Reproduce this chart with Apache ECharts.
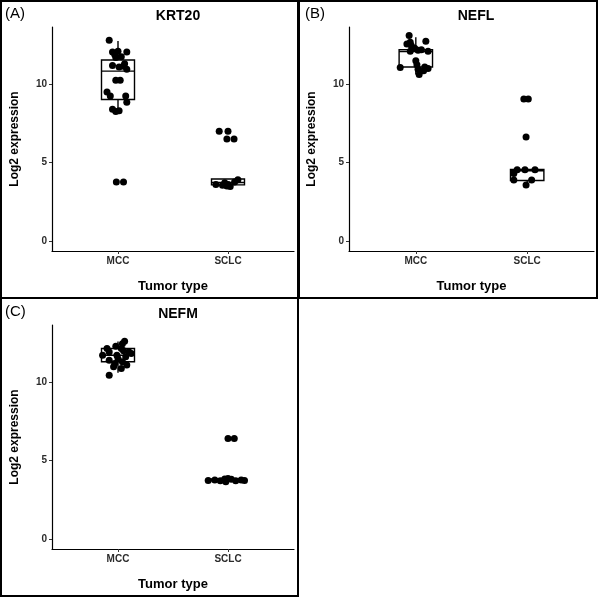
<!DOCTYPE html>
<html><head><meta charset="utf-8">
<script src="https://cdn.jsdelivr.net/npm/echarts@6/dist/echarts.min.js"></script>
<style>html,body{margin:0;padding:0;background:#fff}#c{width:600px;height:599px}</style>
</head><body><div id="c"></div>
<script>
const categories = ['MCC', 'SCLC'];
const yTickValues = [0, 5, 10];
const panelLetters = ['(A)', '(B)', '(C)'];
const genes = ['KRT20', 'NEFL', 'NEFM'];

// jittered points: horizontal offset from category centre (axis units), value (log2)
const krt20MccOffset = [-0.08,-0.05,-0.03,0.0,0.08,-0.02,0.03,-0.05,0.01,0.05,0.08,0.06,-0.02,0.02,-0.10,-0.07,0.07,0.08,-0.05,-0.02,0.01,-0.015,0.05];
const krt20MccValue  = [12.8,12.05,11.9,12.1,12.05,11.7,11.75,11.2,11.1,11.15,10.95,11.3,10.25,10.25,9.5,9.25,9.25,8.85,8.4,8.25,8.3,3.75,3.75];
const krt20SclcOffset = [-0.08,0.0,-0.01,0.055,-0.11,-0.05,-0.01,0.02,0.0,0.09,-0.03,0.06];
const krt20SclcValue  = [7.0,7.0,6.5,6.5,3.6,3.55,3.5,3.47,3.6,3.9,3.7,3.75];

const neflMccOffset = [-0.06,0.09,-0.08,-0.05,-0.04,-0.01,0.02,0.05,0.11,-0.05,0.0,0.01,0.02,-0.14,0.08,0.11,0.07,0.03];
const neflMccValue  = [13.1,12.74,12.56,12.67,12.46,12.3,12.16,12.2,12.1,12.1,11.5,11.24,10.96,11.07,11.1,11.0,10.86,10.62];
const neflSclcOffset = [-0.03,0.01,-0.01,-0.09,-0.02,0.07,-0.12,-0.12,0.04,-0.01];
const neflSclcValue  = [9.06,9.06,6.63,4.53,4.53,4.53,4.3,3.89,3.89,3.57];

const nefmMccOffset = [0.06,0.04,-0.02,-0.1,0.03,-0.08,0.1,-0.14,-0.01,0.07,0.12,-0.08,-0.03,0.04,-0.04,0.03,-0.08,0.05,0.0,0.08];
const nefmMccValue  = [12.61,12.46,12.29,12.15,12.15,11.93,11.93,11.72,11.72,11.62,11.83,11.4,11.19,11.3,10.98,10.87,10.45,12.0,11.5,11.1];
const nefmSclcOffset = [0.0,0.057,-0.18,-0.12,-0.07,-0.03,0.0,0.03,0.07,0.12,0.15,-0.02];
const nefmSclcValue  = [6.4,6.4,3.72,3.75,3.7,3.82,3.85,3.8,3.7,3.75,3.72,3.65];

// boxplot statistics: [lower whisker, Q1, median, Q3, upper whisker]
const krt20Box = [[8.27,9.02,10.83,11.54,12.76],[3.47,3.57,3.72,3.95,3.95]];
const neflBox  = [[10.62,11.1,12.08,12.2,13.0],[3.55,3.85,4.47,4.55,4.55]];
const nefmBox  = [[10.6,11.3,11.72,12.15,12.6],[3.65,3.7,3.76,3.82,3.88]];

const FONT = 'Liberation Sans, Arial, sans-serif';
const BOX_HALF = 0.15;

const grids = [
  {left: 52, top: 27, width: 242, height: 224},
  {left: 349, top: 27, width: 245, height: 224},
  {left: 52, top: 325, width: 242, height: 224}
];

const panels = [
  {pts: [[krt20MccOffset, krt20MccValue], [krt20SclcOffset, krt20SclcValue]], box: krt20Box},
  {pts: [[neflMccOffset, neflMccValue], [neflSclcOffset, neflSclcValue]], box: neflBox},
  {pts: [[nefmMccOffset, nefmMccValue], [nefmSclcOffset, nefmSclcValue]], box: nefmBox}
];

const xAxes = grids.map((g, i) => ({
  gridIndex: i, type: 'value', min: 0.4, max: 2.6,
  name: 'Tumor type', nameLocation: 'middle', nameGap: 29,
  nameTextStyle: {fontFamily: FONT, fontWeight: 'bold', fontSize: 13, color: '#000'},
  axisLine: {show: true, onZero: false, lineStyle: {color: '#000', width: 1.2}},
  axisTick: {show: true, length: 3, customValues: [1, 2], lineStyle: {color: '#333'}},
  axisLabel: {customValues: [1, 2], formatter: v => categories[Math.round(v) - 1] || '',
    fontFamily: FONT, fontWeight: 'bold', fontSize: 10, color: '#2b2b2b', margin: 5},
  splitLine: {show: false}
}));

const yAxes = grids.map((g, i) => ({
  gridIndex: i, type: 'value', min: -0.65, max: 13.65,
  name: 'Log2 expression', nameLocation: 'middle', nameGap: 31,
  nameTextStyle: {fontFamily: FONT, fontWeight: 'bold', fontSize: 12, color: '#000'},
  axisLine: {show: true, onZero: false, lineStyle: {color: '#000', width: 1.2}},
  axisTick: {show: true, length: 3, customValues: yTickValues, lineStyle: {color: '#333'}},
  axisLabel: {customValues: yTickValues, fontFamily: FONT, fontWeight: 'bold', fontSize: 10, color: '#2b2b2b', margin: 5},
  splitLine: {show: false}
}));

const series = [];
panels.forEach((p, i) => {
  const boxData = p.box.map((b, k) => [k + 1].concat(b));
  series.push({
    type: 'custom', xAxisIndex: i, yAxisIndex: i, z: 1,
    data: boxData,
    encode: {x: 0, y: [1, 2, 3, 4, 5]},
    renderItem: function (params, api) {
      const x = api.value(0);
      const lo = api.coord([x, api.value(1)]);
      const q1l = api.coord([x - BOX_HALF, api.value(2)]);
      const q3r = api.coord([x + BOX_HALF, api.value(4)]);
      const medL = api.coord([x - BOX_HALF, api.value(3)]);
      const medR = api.coord([x + BOX_HALF, api.value(3)]);
      const q1c = api.coord([x, api.value(2)]);
      const q3c = api.coord([x, api.value(4)]);
      const hi = api.coord([x, api.value(5)]);
      const st = {stroke: '#000', lineWidth: 1.4, fill: null};
      return {type: 'group', children: [
        {type: 'line', shape: {x1: hi[0], y1: hi[1], x2: q3c[0], y2: q3c[1]}, style: st},
        {type: 'line', shape: {x1: q1c[0], y1: q1c[1], x2: lo[0], y2: lo[1]}, style: st},
        {type: 'rect', shape: {x: q1l[0], y: q3r[1], width: q3r[0] - q1l[0], height: q1l[1] - q3r[1]},
          style: {stroke: '#000', lineWidth: 1.4, fill: '#fff'}},
        {type: 'line', shape: {x1: medL[0], y1: medL[1], x2: medR[0], y2: medR[1]}, style: st}
      ]};
    }
  });
  const pts = [];
  p.pts.forEach((pair, k) => {
    pair[0].forEach((off, j) => pts.push([k + 1 + off, pair[1][j]]));
  });
  series.push({
    type: 'scatter', xAxisIndex: i, yAxisIndex: i, z: 3,
    symbolSize: 7, itemStyle: {color: '#000', opacity: 1},
    data: pts
  });
});

const titleCenters = [[173, 4], [471, 4], [173, 302]];
const title = genes.map((g, i) => ({
  text: g, left: titleCenters[i][0], top: titleCenters[i][1], textAlign: 'center',
  textStyle: {fontFamily: FONT, fontWeight: 'bold', fontSize: 14, color: '#000'}
}));

const letterPos = [[5, 14], [305, 14], [5, 312]];
const graphic = [
  {type: 'rect', shape: {x: 1, y: 1, width: 297, height: 297}, style: {fill: null, stroke: '#000', lineWidth: 2}},
  {type: 'rect', shape: {x: 299, y: 1, width: 298, height: 297}, style: {fill: null, stroke: '#000', lineWidth: 2}},
  {type: 'rect', shape: {x: 1, y: 298, width: 297, height: 298}, style: {fill: null, stroke: '#000', lineWidth: 2}}
].concat(panelLetters.map((t, i) => ({
  type: 'text', x: letterPos[i][0], y: letterPos[i][1],
  style: {text: t, fontFamily: FONT, fontSize: 15, fill: '#000', textVerticalAlign: 'middle', verticalAlign: 'middle'}
})));

const chart = echarts.init(document.getElementById('c'), null, {renderer: 'canvas'});
chart.setOption({
  animation: false,
  backgroundColor: '#fff',
  title: title,
  grid: grids,
  xAxis: xAxes,
  yAxis: yAxes,
  series: series,
  graphic: graphic
});
</script>
</body></html>
